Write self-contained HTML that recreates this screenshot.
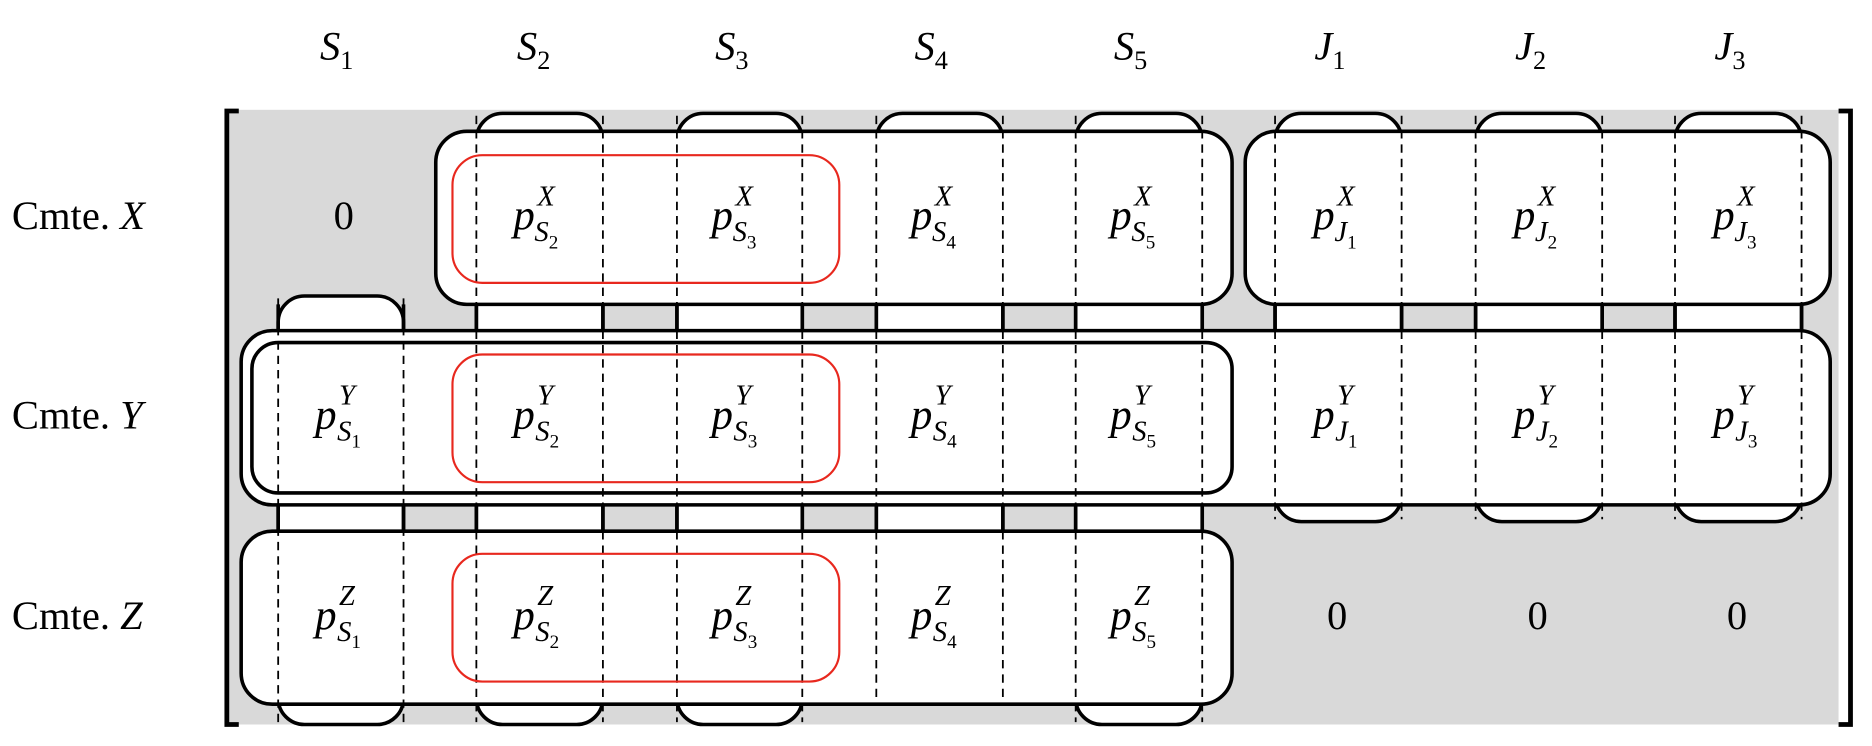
<!DOCTYPE html>
<html><head><meta charset="utf-8"><style>
html,body{margin:0;padding:0;background:#fff;}
svg{display:block;}
text{font-family:"Liberation Serif",serif;fill:#000;}
</style></head><body>
<svg width="1872" height="746" viewBox="0 0 1568 625" preserveAspectRatio="none" xmlns="http://www.w3.org/2000/svg">
<rect x="190" y="92" width="1350" height="515" fill="#d9d9d9"/>
<!-- brackets -->
<path d="M200 93 H190 V607 H200" fill="none" stroke="#000" stroke-width="4"/>
<path d="M1540 93 H1550 V607 H1540" fill="none" stroke="#000" stroke-width="4"/>
<g fill="#fff" stroke="#000" stroke-width="3">
<!-- column tubes -->
<rect x="233" y="248" width="105" height="359" rx="22"/>
<rect x="399" y="95" width="106" height="512" rx="22"/>
<rect x="567" y="95" width="105" height="512" rx="22"/>
<rect x="734" y="95" width="106" height="495" rx="22"/>
<rect x="901" y="95" width="106" height="512" rx="22"/>
<rect x="1068" y="95" width="106" height="342" rx="22"/>
<rect x="1236" y="95" width="106" height="342" rx="22"/>
<rect x="1403" y="95" width="106" height="342" rx="22"/>
<!-- rows -->
<rect x="365" y="110" width="667" height="145" rx="26"/>
<rect x="1043" y="110" width="490" height="145" rx="26"/>
<rect x="202" y="277" width="1331" height="146" rx="26"/>
<rect x="211" y="287" width="821" height="126" rx="22"/>
<rect x="202" y="445" width="830" height="145" rx="26"/>
</g>
<!-- dashed lines -->
<g stroke="#000" stroke-width="1.5" stroke-dasharray="7,5">
<path d="M233 250V605M338 250V605"/>
<path d="M399 97V605M505 97V605M567 97V605M672 97V605"/>
<path d="M734 97V588M840 97V588M901 97V605M1007 97V605"/>
<path d="M1068 97V435M1174 97V435M1236 97V435M1342 97V435M1403 97V435M1509 97V435"/>
</g>
<!-- solid segments between rows -->
<g stroke="#000" stroke-width="3">
<path d="M233 255V277M338 255V277"/>
<path d="M399 255V277M505 255V277M567 255V277M672 255V277M734 255V277M840 255V277M901 255V277M1007 255V277M1068 255V277M1174 255V277M1236 255V277M1342 255V277M1403 255V277M1509 255V277"/>
<path d="M233 423V445M338 423V445M399 423V445M505 423V445M567 423V445M672 423V445M734 423V445M840 423V445M901 423V445M1007 423V445"/>
</g>
<!-- red rects -->
<g fill="none" stroke="#e8281e" stroke-width="1.8">
<rect x="379" y="130" width="324" height="107" rx="25"/>
<rect x="379" y="297" width="324" height="107" rx="25"/>
<rect x="379" y="464" width="324" height="107" rx="25"/>
</g>
<!-- headers -->
<g font-size="34" font-style="italic" text-anchor="middle">
<text x="282" y="50">S<tspan font-size="22" font-style="normal" dy="8">1</tspan></text>
<text x="447" y="50">S<tspan font-size="22" font-style="normal" dy="8">2</tspan></text>
<text x="613" y="50">S<tspan font-size="22" font-style="normal" dy="8">3</tspan></text>
<text x="780" y="50">S<tspan font-size="22" font-style="normal" dy="8">4</tspan></text>
<text x="947" y="50">S<tspan font-size="22" font-style="normal" dy="8">5</tspan></text>
<text x="1114" y="50">J<tspan font-size="22" font-style="normal" dy="8">1</tspan></text>
<text x="1282" y="50">J<tspan font-size="22" font-style="normal" dy="8">2</tspan></text>
<text x="1449" y="50">J<tspan font-size="22" font-style="normal" dy="8">3</tspan></text>
</g>
<!-- row labels -->
<g font-size="34">
<text x="10" y="192">Cmte. <tspan font-style="italic">X</tspan></text>
<text x="10" y="359">Cmte. <tspan font-style="italic">Y</tspan></text>
<text x="10" y="527">Cmte. <tspan font-style="italic">Z</tspan></text>
</g>
<!-- zeros -->
<g font-size="34" text-anchor="middle">
<text x="288" y="192">0</text>
<text x="1120" y="527">0</text>
<text x="1288" y="527">0</text>
<text x="1455" y="527">0</text>
</g>
<!-- entries -->
<g font-size="36" font-style="italic">
<text x="430" y="192">p<tspan font-size="24" dx="2" dy="-20">X</tspan><tspan font-size="24" dx="-17" dy="30">S</tspan><tspan font-size="16" font-style="normal" dy="6">2</tspan></text>
<text x="596" y="192">p<tspan font-size="24" dx="2" dy="-20">X</tspan><tspan font-size="24" dx="-17" dy="30">S</tspan><tspan font-size="16" font-style="normal" dy="6">3</tspan></text>
<text x="763" y="192">p<tspan font-size="24" dx="2" dy="-20">X</tspan><tspan font-size="24" dx="-17" dy="30">S</tspan><tspan font-size="16" font-style="normal" dy="6">4</tspan></text>
<text x="930" y="192">p<tspan font-size="24" dx="2" dy="-20">X</tspan><tspan font-size="24" dx="-17" dy="30">S</tspan><tspan font-size="16" font-style="normal" dy="6">5</tspan></text>
<text x="1100" y="192">p<tspan font-size="24" dx="2" dy="-20">X</tspan><tspan font-size="24" dx="-17" dy="30">J</tspan><tspan font-size="16" font-style="normal" dy="6">1</tspan></text>
<text x="1268" y="192">p<tspan font-size="24" dx="2" dy="-20">X</tspan><tspan font-size="24" dx="-17" dy="30">J</tspan><tspan font-size="16" font-style="normal" dy="6">2</tspan></text>
<text x="1435" y="192">p<tspan font-size="24" dx="2" dy="-20">X</tspan><tspan font-size="24" dx="-17" dy="30">J</tspan><tspan font-size="16" font-style="normal" dy="6">3</tspan></text>

<text x="264" y="359">p<tspan font-size="24" dx="2" dy="-20">Y</tspan><tspan font-size="24" dx="-15" dy="30">S</tspan><tspan font-size="16" font-style="normal" dy="6">1</tspan></text>
<text x="430" y="359">p<tspan font-size="24" dx="2" dy="-20">Y</tspan><tspan font-size="24" dx="-15" dy="30">S</tspan><tspan font-size="16" font-style="normal" dy="6">2</tspan></text>
<text x="596" y="359">p<tspan font-size="24" dx="2" dy="-20">Y</tspan><tspan font-size="24" dx="-15" dy="30">S</tspan><tspan font-size="16" font-style="normal" dy="6">3</tspan></text>
<text x="763" y="359">p<tspan font-size="24" dx="2" dy="-20">Y</tspan><tspan font-size="24" dx="-15" dy="30">S</tspan><tspan font-size="16" font-style="normal" dy="6">4</tspan></text>
<text x="930" y="359">p<tspan font-size="24" dx="2" dy="-20">Y</tspan><tspan font-size="24" dx="-15" dy="30">S</tspan><tspan font-size="16" font-style="normal" dy="6">5</tspan></text>
<text x="1100" y="359">p<tspan font-size="24" dx="2" dy="-20">Y</tspan><tspan font-size="24" dx="-15" dy="30">J</tspan><tspan font-size="16" font-style="normal" dy="6">1</tspan></text>
<text x="1268" y="359">p<tspan font-size="24" dx="2" dy="-20">Y</tspan><tspan font-size="24" dx="-15" dy="30">J</tspan><tspan font-size="16" font-style="normal" dy="6">2</tspan></text>
<text x="1435" y="359">p<tspan font-size="24" dx="2" dy="-20">Y</tspan><tspan font-size="24" dx="-15" dy="30">J</tspan><tspan font-size="16" font-style="normal" dy="6">3</tspan></text>

<text x="264" y="527">p<tspan font-size="24" dx="2" dy="-20">Z</tspan><tspan font-size="24" dx="-15" dy="30">S</tspan><tspan font-size="16" font-style="normal" dy="6">1</tspan></text>
<text x="430" y="527">p<tspan font-size="24" dx="2" dy="-20">Z</tspan><tspan font-size="24" dx="-15" dy="30">S</tspan><tspan font-size="16" font-style="normal" dy="6">2</tspan></text>
<text x="596" y="527">p<tspan font-size="24" dx="2" dy="-20">Z</tspan><tspan font-size="24" dx="-15" dy="30">S</tspan><tspan font-size="16" font-style="normal" dy="6">3</tspan></text>
<text x="763" y="527">p<tspan font-size="24" dx="2" dy="-20">Z</tspan><tspan font-size="24" dx="-15" dy="30">S</tspan><tspan font-size="16" font-style="normal" dy="6">4</tspan></text>
<text x="930" y="527">p<tspan font-size="24" dx="2" dy="-20">Z</tspan><tspan font-size="24" dx="-15" dy="30">S</tspan><tspan font-size="16" font-style="normal" dy="6">5</tspan></text>
</g>
</svg>
</body></html>
